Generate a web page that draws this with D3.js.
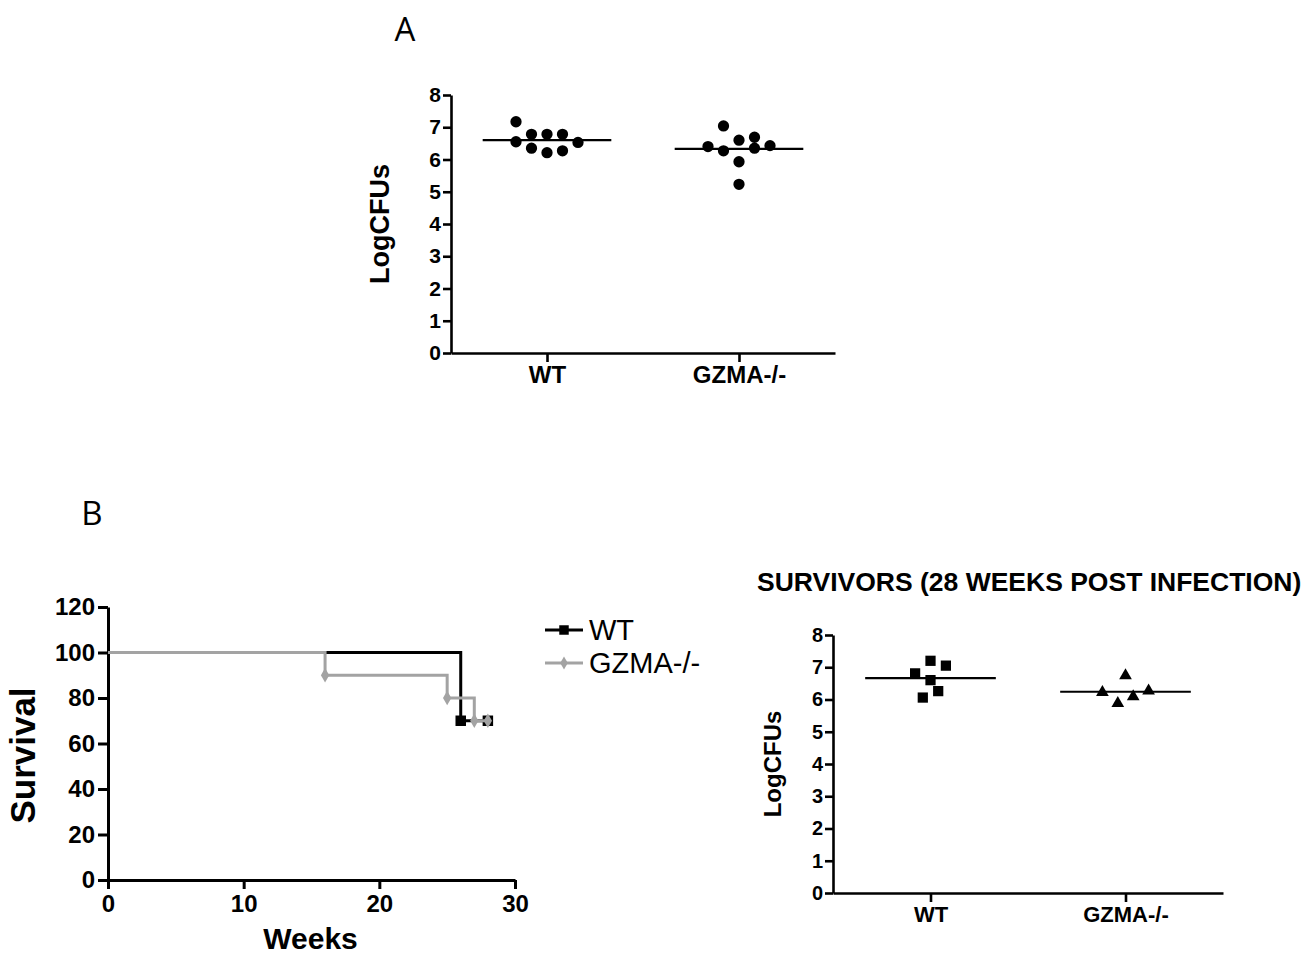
<!DOCTYPE html>
<html>
<head>
<meta charset="utf-8">
<script src="https://cdn.jsdelivr.net/npm/d3@7"></script>
<style>
  body { margin: 0; background: #fff; }
  svg { display: block; }
  .tick text { font-family: "Liberation Sans", Arial, sans-serif; font-weight: bold; fill: #000; }
</style>
</head>
<body>
<svg id="fig" width="1304" height="955"></svg>
<script>
// ---- data ----
const groups = ['WT', 'GZMA-/-'];

// panel A: log CFUs per mouse, with the scatter column each dot sits in
const cfuWT = [7.17, 6.55, 6.78, 6.35, 6.78, 6.21, 6.78, 6.27, 6.53];
const cfuWTCol = [-2, -2, -1, -1, 0, 0, 1, 1, 2];
const cfuKO = [6.40, 7.04, 6.27, 6.60, 5.93, 5.23, 6.69, 6.35, 6.43];
const cfuKOCol = [-2, -1, -1, 0, 0, 0, 1, 1, 2];

// panel B: survival (%) by week
const survWeeksWT = [0, 26, 28];
const survWT = [100, 70, 70];
const survWeeksKO = [0, 16, 25, 27, 28];
const survKO = [100, 90, 80, 70, 70];

// survivors at 28 weeks
const survCfuWT = [6.81, 7.20, 6.60, 7.05, 6.26, 6.06];
const survCfuWTCol = [-2, 0, 0, 2, 1, -1];
const survCfuKO = [6.22, 6.74, 5.88, 6.09, 6.27];
const survCfuKOCol = [-3, 0, -1, 1, 3];

const logTicks = [0, 1, 2, 3, 4, 5, 6, 7, 8];
const survTicks = [0, 20, 40, 60, 80, 100, 120];
const weekTicks = [0, 10, 20, 30];

const grey = '#a3a3a3';
const font = '"Liberation Sans", Arial, sans-serif';

const svg = d3.select('#fig');

function styleAxis(g, width, fontSize) {
  g.select('.domain').attr('stroke', '#000').attr('stroke-width', width);
  g.selectAll('.tick line').attr('stroke', '#000').attr('stroke-width', width);
  g.selectAll('.tick text').style('font-size', fontSize + 'px');
}

// scatter panel with a mean line per group
function dotPanel(opt) {
  const x = d3.scalePoint().domain(groups).range([opt.left, opt.right]).padding(0.5);
  const y = d3.scaleLinear().domain([0, 8]).range([opt.bottom, opt.top]);
  const col = d3.scaleLinear().domain([0, 1]).range([0, opt.colStep]);

  const ya = svg.append('g')
      .attr('transform', 'translate(' + opt.left + ',0)')
      .call(d3.axisLeft(y).tickValues(logTicks).tickFormat(d3.format('d'))
        .tickSize(8).tickSizeOuter(0).tickPadding(2));
  styleAxis(ya, opt.axisW, opt.tickFont);

  const xa = svg.append('g')
      .attr('transform', 'translate(0,' + opt.bottom + ')')
      .call(d3.axisBottom(x).tickSize(9).tickSizeOuter(0).tickPadding(opt.xPad));
  styleAxis(xa, opt.axisW, opt.xFont);

  const half = x.step() * 0.335;
  opt.sets.forEach((s, gi) => {
    const cx = x(groups[gi]);
    const m = d3.mean(s.values);
    svg.append('line')
        .attr('x1', cx - half).attr('x2', cx + half)
        .attr('y1', y(m)).attr('y2', y(m))
        .attr('stroke', '#000').attr('stroke-width', 2.2);
    svg.append('g').selectAll('path')
      .data(s.values)
      .join('path')
        .attr('transform', (d, i) => 'translate(' + (cx + col(s.cols[i])) + ',' + y(d) + ')')
        .attr('d', d3.symbol(s.symbol, s.size))
        .attr('fill', '#000');
  });

  svg.append('text')
      .attr('transform', 'translate(' + opt.labelX + ',' + ((opt.top + opt.bottom) / 2) + ') rotate(-90)')
      .attr('text-anchor', 'middle')
      .style('font-family', font).style('font-weight', 'bold')
      .style('font-size', opt.labelFont + 'px')
      .text('LogCFUs');
}

// ---- panel A ----
svg.append('text')
    .attr('x', 405).attr('y', 41)
    .attr('text-anchor', 'middle')
    .style('font-family', '"Open Sans", sans-serif').style('font-size', '33px')
    .text('A');

dotPanel({
  left: 451, right: 835, top: 95, bottom: 353,
  colStep: 15.5, axisW: 2.6, tickFont: 21, xFont: 24, xPad: 4,
  labelX: 389, labelFont: 27,
  sets: [
    {values: cfuWT, cols: cfuWTCol, symbol: d3.symbolCircle, size: 100},
    {values: cfuKO, cols: cfuKOCol, symbol: d3.symbolCircle, size: 100}
  ]
});

// ---- panel B: survival ----
svg.append('text')
    .attr('x', 92).attr('y', 525)
    .attr('text-anchor', 'middle')
    .style('font-family', '"Open Sans", sans-serif').style('font-size', '33px')
    .text('B');

const sx = d3.scaleLinear().domain([0, 30]).range([108, 515]);
const sy = d3.scaleLinear().domain([0, 120]).range([880, 607]);

const sya = svg.append('g')
    .attr('transform', 'translate(108,0)')
    .call(d3.axisLeft(sy).tickValues(survTicks).tickSize(10).tickSizeOuter(0).tickPadding(3));
styleAxis(sya, 3, 24);

const sxa = svg.append('g')
    .attr('transform', 'translate(0,880)')
    .call(d3.axisBottom(sx).tickValues(weekTicks).tickSize(9).tickSizeOuter(0).tickPadding(6));
styleAxis(sxa, 3, 24);

const step = d3.line().curve(d3.curveStepAfter)
    .x(d => sx(d[0])).y(d => sy(d[1]));

const wtPts = survWeeksWT.map((w, i) => [w, survWT[i]]);
const koPts = survWeeksKO.map((w, i) => [w, survKO[i]]);

svg.append('path').attr('d', step(wtPts))
    .attr('fill', 'none').attr('stroke', '#000').attr('stroke-width', 3);
svg.append('g').selectAll('path')
  .data(wtPts.slice(1))
  .join('path')
    .attr('transform', d => 'translate(' + sx(d[0]) + ',' + sy(d[1]) + ')')
    .attr('d', d3.symbol(d3.symbolSquare, 110))
    .attr('fill', '#000');

svg.append('path').attr('d', step(koPts))
    .attr('fill', 'none').attr('stroke', grey).attr('stroke-width', 3);
svg.append('g').selectAll('path')
  .data(koPts.slice(1))
  .join('path')
    .attr('transform', d => 'translate(' + sx(d[0]) + ',' + sy(d[1]) + ')')
    .attr('d', d3.symbol(d3.symbolDiamond, 60))
    .attr('fill', grey);

svg.append('text')
    .attr('x', (sx(0) + sx(30)) / 2 - 1).attr('y', 949)
    .attr('text-anchor', 'middle')
    .style('font-family', font).style('font-weight', 'bold').style('font-size', '30px')
    .text('Weeks');

svg.append('text')
    .attr('transform', 'translate(35,' + ((sy(0) + sy(120)) / 2 + 12) + ') rotate(-90)')
    .attr('text-anchor', 'middle')
    .style('font-family', font).style('font-weight', 'bold').style('font-size', '35px')
    .text('Survival');

// legend
const legend = [
  {name: 'WT', color: '#000', symbol: d3.symbolSquare, size: 90},
  {name: 'GZMA-/-', color: grey, symbol: d3.symbolDiamond, size: 50}
];
const lg = svg.append('g').attr('transform', 'translate(545,630)');
legend.forEach((l, i) => {
  const row = lg.append('g').attr('transform', 'translate(0,' + (i * 33) + ')');
  row.append('line').attr('x1', 0).attr('x2', 38)
      .attr('stroke', l.color).attr('stroke-width', 3);
  row.append('path').attr('transform', 'translate(19,0)')
      .attr('d', d3.symbol(l.symbol, l.size)).attr('fill', l.color);
  row.append('text').attr('x', 44).attr('y', 10)
      .style('font-family', font).style('font-size', '29px')
      .text(l.name);
});

// ---- survivors panel ----
svg.append('text')
    .attr('x', 757).attr('y', 591)
    .style('font-family', font).style('font-weight', 'bold').style('font-size', '26.5px')
    .text('SURVIVORS (28 WEEKS POST INFECTION)');

dotPanel({
  left: 833, right: 1223, top: 635, bottom: 893,
  colStep: 7.7, axisW: 2.6, tickFont: 20, xFont: 22, xPad: 4,
  labelX: 781, labelFont: 24,
  sets: [
    {values: survCfuWT, cols: survCfuWTCol, symbol: d3.symbolSquare, size: 105},
    {values: survCfuKO, cols: survCfuKOCol, symbol: d3.symbolTriangle, size: 70}
  ]
});
</script>
</body>
</html>
